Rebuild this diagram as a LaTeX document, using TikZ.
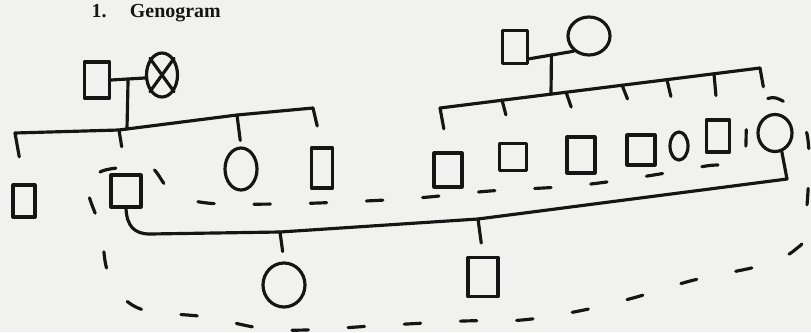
\documentclass[tikz,border=0pt]{standalone}
\usepackage{fontspec}
\setmainfont{Liberation Serif}
\usetikzlibrary{shapes.geometric, calc}
\definecolor{ink}{HTML}{151515}
\definecolor{paper}{HTML}{F1F1EF}

\tikzset{
  male/.style 2 args={draw=ink, rectangle, inner sep=0pt, minimum width=#1cm, minimum height=#2cm},
  female/.style 2 args={draw=ink, ellipse, inner sep=0pt, minimum width=#1cm, minimum height=#2cm},
  household/.style={draw=ink, dash pattern=on 14pt off 34pt},
}

\begin{document}
\begin{tikzpicture}[x=0.03cm, y=-0.03cm, line width=2.7pt, line cap=round, line join=round, ink]
  \path[use as bounding box, fill=paper] (0,0) rectangle (811,332);
  \node[anchor=base west, inner sep=0pt, font=\bfseries\fontsize{17}{20}\selectfont] (title) at (90,17) {1.\hspace{20pt}Genogram};

  % husband's parents and siblings
  \node[male={0.75}{1.08}] (lgf) at (97,80) {};
  \node[female={0.93}{1.32}] (lgm) at (162,75) {};
  \draw (lgm.north west) -- (lgm.south east) (lgm.north east) -- (lgm.south west);
  \coordinate (lmid) at ($(lgf.east)!0.5!(lgm.190)$);
  \draw (lgf.east) -- (lgm.190);

  \coordinate (ls1) at (15,133);
  \coordinate (ls2) at (119,130);
  \coordinate (lsm) at (127,129);
  \coordinate (ls3) at (237,115);
  \coordinate (ls4) at (313,108);
  \draw (ls1) -- (ls2) -- (ls3) -- (ls4);
  \draw (lmid) -- (lsm);

  \node[male={0.66}{0.96}] (c1) at (24,201) {};
  \node[male={0.9}{0.96}] (c2) at (126,191) {};
  \node[female={0.96}{1.26}] (c3) at (241,169) {};
  \node[male={0.63}{1.2}] (c4) at (322,168) {};
  \foreach \c/\g in {1/0.81cm, 2/0.81cm, 3/0.18cm, 4/0.63cm}
    \draw[shorten >=\g] (ls\c) -- (c\c.north);

  % wife's parents and siblings
  \node[male={0.75}{0.99}] (rgf) at (515,47) {};
  \node[female={1.26}{1.14}] (rgm) at (589,36) {};
  \draw (rgf.-40) -- (rgm.225);
  \coordinate (rmid) at ($(rgf.-40)!0.5!(rgm.225)$);

  \coordinate (rs1) at (440,108);
  \coordinate (rs2) at (502,100);
  \coordinate (rs3) at (566,92);
  \coordinate (rs4) at (622,85);
  \coordinate (rs5) at (667,80);
  \coordinate (rs6) at (714,74);
  \coordinate (rs7) at (760,68);
  \coordinate (rsm) at (551,94);
  \draw (rs1) -- (rs7);
  \draw (rmid) -- (rsm);

  \node[male={0.84}{1.02}] (r1) at (448,170) {};
  \node[male={0.81}{0.81}] (r2) at (513,157) {};
  \node[male={0.84}{1.08}] (r3) at (581,155) {};
  \node[male={0.84}{0.9}] (r4) at (641,150) {};
  \node[female={0.54}{0.84}] (r5) at (679,146) {};
  \node[male={0.69}{0.96}] (r6) at (718,136) {};
  \node[female={1.02}{1.11}] (r7) at (775,133) {};
  \foreach \c/\a/\g in {1/north/0.69cm, 2/north/0.84cm, 3/north/0.9cm, 4/north/1.11cm,
                        5/north/1.05cm, 6/north/0.69cm, 7/110/0.84cm}
    \draw[shorten >=\g] (rs\c) -- (r\c.\a);

  % couple and children
  \coordinate (ka) at (280,232);
  \coordinate (kb) at (478,219);
  \coordinate (km) at (787,179);
  \draw (c2.south) .. controls (127,226) and (134,234) .. (150,234) -- (ka) -- (kb) -- (km) -- (r7.-70);
  \node[female={1.26}{1.32}] (k1) at (284,285) {};
  \node[male={0.9}{1.17}] (k2) at (483,277) {};
  \draw[shorten >=0.3cm] (ka) -- (k1.north);
  \draw[shorten >=0.39cm] (kb) -- (k2.north);

  % household
  \draw[household] plot[smooth cycle, tension=0.6] coordinates {
    (88,190) (100,172) (130,167) (152,168) (172,192) (207,203) (277,204) (343,202)
    (417,198) (490,191) (572,186) (641,177) (706,166) (742,160) (749,117) (776,98)
    (807,134) (805,228) (796,249) (763,265) (694,280) (633,298) (579,311) (522,320)
    (464,321) (388,325) (280,330) (206,317) (138,308) (109,275) (101,230)};
\end{tikzpicture}
\end{document}
